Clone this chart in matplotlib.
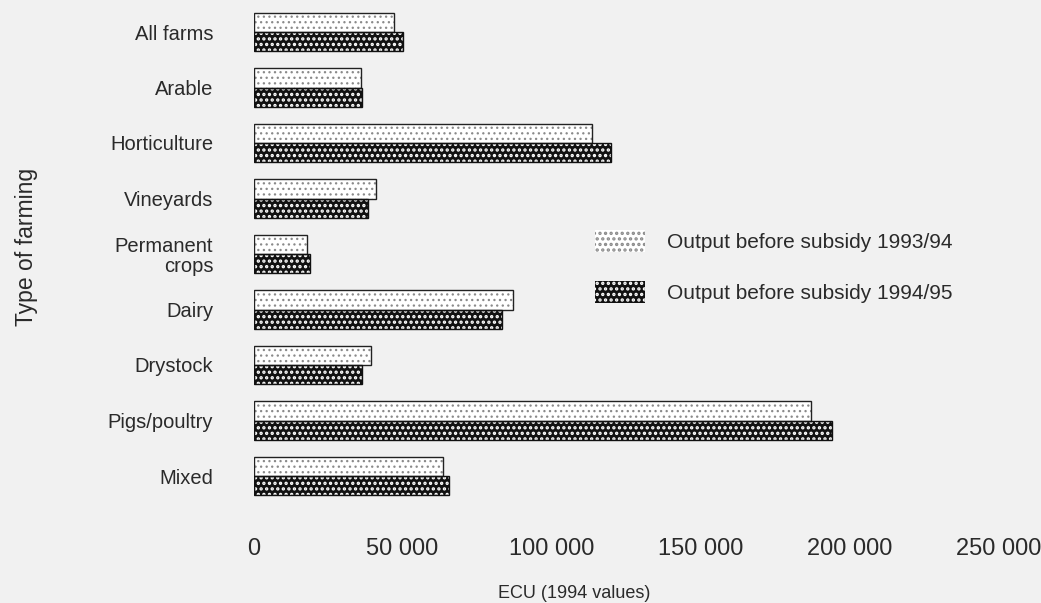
import matplotlib
matplotlib.use('Agg')
import matplotlib.pyplot as plt
from matplotlib.patches import Patch
import numpy as np

categories = ['All farms', 'Arable', 'Horticulture', 'Vineyards', 'Permanent\ncrops',
              'Dairy', 'Drystock', 'Pigs/poultry', 'Mixed']
output_1993_94 = [47000, 36000, 113500, 41000, 18000, 87000, 39500, 187000, 63500]
output_1994_95 = [50000, 36500, 120000, 38500, 19000, 83500, 36500, 194000, 65500]
xticks = [0, 50000, 100000, 150000, 200000, 250000]
xtick_labels = ['0', '50 000', '100 000', '150 000', '200 000', '250 000']
series_labels = ['Output before subsidy 1993/94', 'Output before subsidy 1994/95']

plt.rcParams['font.family'] = ['Liberation Sans', 'DejaVu Sans']

W, H = 1041, 603
fig = plt.figure(figsize=(W / 100, H / 100), dpi=100)
bg = '#f1f1f1'
fig.patch.set_facecolor(bg)
ax = fig.add_axes([253.5 / W, 1 - 503.75 / H, 780.8 / W, 499.5 / H])
ax.set_facecolor(bg)

y = np.arange(len(categories))
h = 0.35

LIGHT_HATCH, DARK_HATCH = '...', '...'
LIGHT_DOT, DARK_DOT = '#8a8a8a', 'white'

# light series: white with grey dots
plt.rcParams['hatch.linewidth'] = 0.9
ax.barh(y - h / 2, output_1993_94, height=h, color='white', edgecolor=LIGHT_DOT,
        hatch=LIGHT_HATCH, linewidth=0, zorder=2)
light_handle = Patch(facecolor='white', edgecolor=LIGHT_DOT, hatch=LIGHT_HATCH, linewidth=0)
# dark series: black with white dots
plt.rcParams['hatch.linewidth'] = 1.6
ax.barh(y + h / 2, output_1994_95, height=h, color='#111111', edgecolor=DARK_DOT,
        hatch=DARK_HATCH, linewidth=0, zorder=2)
dark_handle = Patch(facecolor='#111111', edgecolor=DARK_DOT, hatch=DARK_HATCH, linewidth=0)
# outlines
ax.barh(y - h / 2, output_1993_94, height=h, fill=False, edgecolor='#222222',
        linewidth=1.0, zorder=3)
ax.barh(y + h / 2, output_1994_95, height=h, fill=False, edgecolor='#111111',
        linewidth=1.0, zorder=3)

ax.set_xlim(0, 262000)
ax.set_ylim(len(categories) - 0.5, -0.5)
ax.set_yticks(y)
ax.set_yticklabels(categories, fontsize=14.5, color='#2a2a2a')
for lab in ax.get_yticklabels():
    lab.set_linespacing(1.05)
ax.set_xticks(xticks)
ax.set_xticklabels(xtick_labels, fontsize=17, color='#2a2a2a')
ax.tick_params(axis='y', length=0, pad=29)
ax.tick_params(axis='x', length=0, pad=25)
for s in ax.spines.values():
    s.set_visible(False)

fig.text(27 / W, 1 - 247 / H, 'Type of farming', rotation=90, ha='center', va='center',
         fontsize=16.5, color='#2a2a2a')
fig.text(574 / W, 5 / H, 'ECU (1994 values)', ha='center', va='baseline',
         fontsize=13, color='#2a2a2a')

fig.legend([light_handle, dark_handle], series_labels, loc='upper left',
           bbox_to_anchor=(595 / W, 1 - 230 / H), bbox_transform=fig.transFigure,
           frameon=False, fontsize=15, handlelength=2.4, handleheight=1.25,
           handletextpad=1.06, labelspacing=1.4, borderpad=0, borderaxespad=0,
           labelcolor='#2a2a2a')

fig.savefig('out.png', dpi=100, facecolor=bg)
